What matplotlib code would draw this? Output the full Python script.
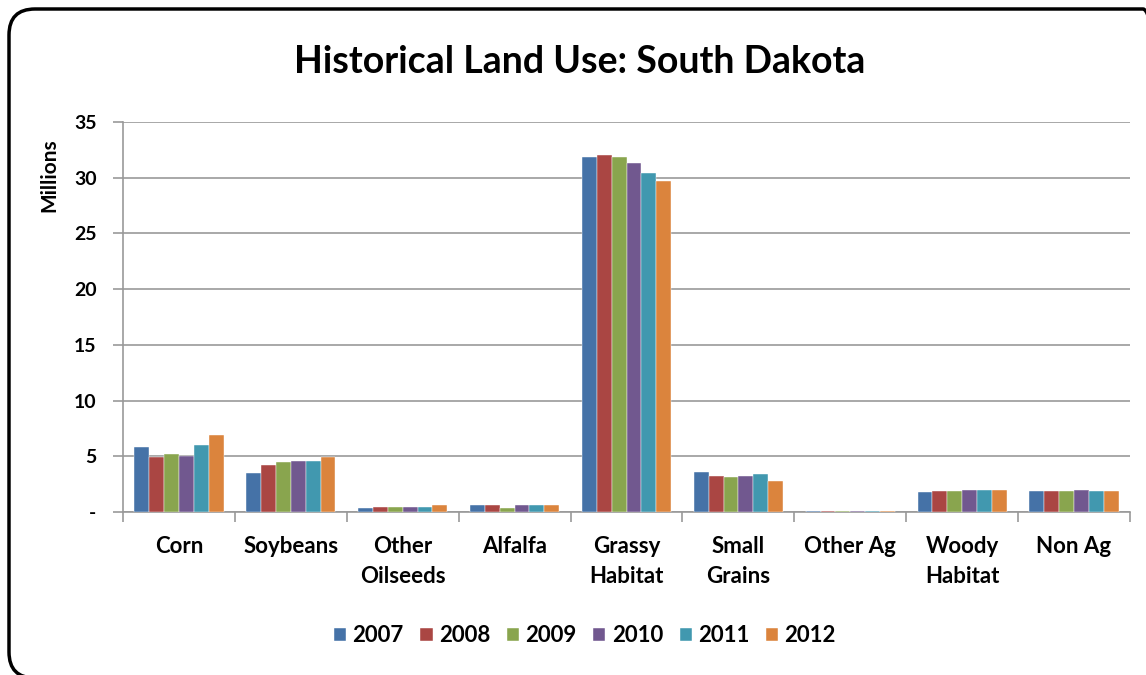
import numpy as np
import matplotlib.pyplot as plt
from matplotlib.patches import FancyBboxPatch

categories = ['Corn', 'Soybeans', 'Other\nOilseeds', 'Alfalfa', 'Grassy\nHabitat',
              'Small\nGrains', 'Other Ag', 'Woody\nHabitat', 'Non Ag']
years = ['2007', '2008', '2009', '2010', '2011', '2012']

v2007 = [5.83, 3.53, 0.36, 0.60, 31.90, 3.62, 0.10, 1.77, 1.88]
v2008 = [4.96, 4.22, 0.48, 0.60, 32.05, 3.26, 0.10, 1.88, 1.88]
v2009 = [5.18, 4.46, 0.48, 0.36, 31.90, 3.14, 0.10, 1.88, 1.88]
v2010 = [5.00, 4.55, 0.48, 0.60, 31.30, 3.26, 0.10, 1.97, 1.97]
v2011 = [5.99, 4.55, 0.48, 0.60, 30.40, 3.41, 0.10, 1.97, 1.88]
v2012 = [6.91, 4.94, 0.60, 0.60, 29.70, 2.81, 0.10, 1.97, 1.88]
series = [v2007, v2008, v2009, v2010, v2011, v2012]

colors = ['#4572A7', '#AA4643', '#89A54E', '#71588F', '#4198AF', '#DB843D']

plt.rcParams['font.family'] = ['Lato', 'DejaVu Sans']

W, H = 1146, 675
fig = plt.figure(figsize=(W / 100, H / 100), dpi=100)

# background axes in pixel units (y up), only for the rounded frame
bg = fig.add_axes([0, 0, 1, 1], zorder=-1)
bg.set_xlim(0, W)
bg.set_ylim(0, H)
bg.axis('off')
bg.add_patch(FancyBboxPatch((9, -3), 1160, H - 9 + 3,
                            boxstyle='round,pad=0,rounding_size=26',
                            fill=False, edgecolor='black', linewidth=2.5))

ax = fig.add_axes([123 / W, 1 - 512 / H, (1130 - 123) / W, (512 - 122) / H])

x = np.arange(len(categories))
bw = 0.133
for i, (vals, c) in enumerate(zip(series, colors)):
    ax.bar(x + (i - 2.5) * bw, vals, bw, color=c, label=years[i],
           edgecolor='white', linewidth=0.3, zorder=3)

ax.set_xlim(-0.5, len(categories) - 0.5)
ax.set_ylim(0, 35)
ax.set_yticks(range(0, 36, 5))
ax.set_yticklabels(['-'] + [str(v) for v in range(5, 36, 5)],
                   fontsize=14, fontweight='bold')
ax.yaxis.grid(True, color='#999999', linewidth=1.2, zorder=0)
ax.tick_params(axis='y', length=7, color='#999999', width=1.2, pad=12)

ax.set_xticks(x)
ax.set_xticklabels(categories, fontsize=16, fontweight='bold', linespacing=1.55)
ax.tick_params(axis='x', length=0, pad=17)
ax.set_xticks(np.arange(len(categories) + 1) - 0.5, minor=True)
ax.tick_params(axis='x', which='minor', length=7, color='#999999', width=1.2)

for s in ['top', 'right']:
    ax.spines[s].set_visible(False)
for s in ['left', 'bottom']:
    ax.spines[s].set_color('#999999')
    ax.spines[s].set_linewidth(1.2)

fig.text(49 / W, 1 - 175 / H, 'Millions', rotation=90, ha='center', va='center',
         fontsize=15, fontweight='bold')
fig.text(580 / W, 1 - 62 / H, 'Historical Land Use: South Dakota', ha='center',
         va='center', fontsize=27, fontweight='bold')

fig.legend(loc='center', bbox_to_anchor=(585 / W, 1 - 636 / H), ncol=6,
           frameon=False, prop={'size': 16, 'weight': 'bold'},
           handlelength=0.55, handleheight=0.55, handletextpad=0.28,
           columnspacing=0.75)

fig.savefig('out.png', dpi=100)
